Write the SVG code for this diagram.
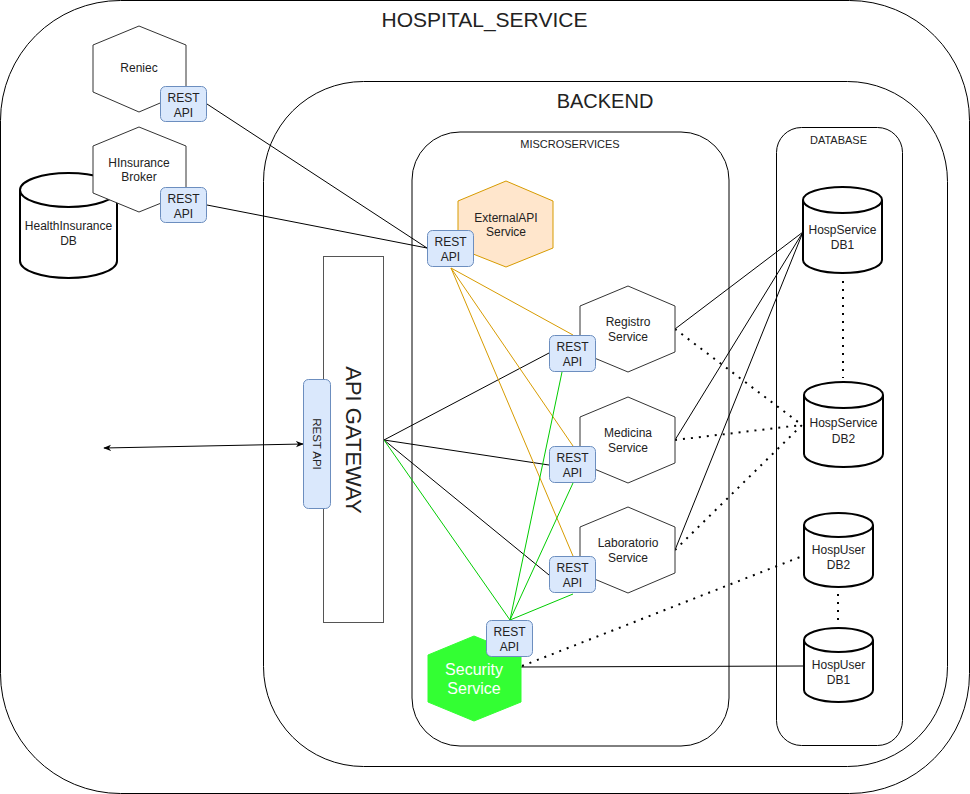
<svg xmlns="http://www.w3.org/2000/svg" width="970" height="794" viewBox="0 0 970 794">
<defs>
<style>
.t{font-family:"Liberation Sans",Arial,Helvetica,sans-serif;fill:#222;text-anchor:middle}
.s12{font-size:12px}
.s11{font-size:11px}
.cont{fill:none;stroke:#000;stroke-width:1}
.hex{fill:#fff;stroke:#333;stroke-width:1}
.rest{fill:#dae8fc;stroke:#6c8ebf;stroke-width:1}
.cyl{fill:#fff;stroke:#000;stroke-width:2}
.ln{fill:none;stroke:#000;stroke-width:1}
.or{fill:none;stroke:#D79B00;stroke-width:1}
.gr{fill:none;stroke:#00CC00;stroke-width:1}
.dt{fill:none;stroke:#000;stroke-width:2;stroke-dasharray:2 6}
</style>
<marker id="arr" viewBox="0 0 10 10" refX="9" refY="5" markerWidth="8" markerHeight="8" markerUnits="userSpaceOnUse" orient="auto-start-reverse">
<path d="M0,1 L10,5 L0,9 L3,5 Z" fill="#000"/>
</marker>
</defs>
<rect width="970" height="794" fill="#fff"/>

<g id="hospital_service">
<rect class="cont" x="0.5" y="0.5" width="969" height="793" rx="120" ry="120"/>
<text class="t" x="484.5" y="27" style="font-size:21px">HOSPITAL_SERVICE</text>
</g>
<g id="backend">
<rect class="cont" x="263.5" y="81.5" width="684" height="685" rx="100" ry="100"/>
<text class="t" x="605" y="108" style="font-size:20px">BACKEND</text>
</g>
<g id="microservices">
<rect class="cont" x="412" y="132" width="317" height="614" rx="48" ry="48"/>
<text class="t s11" x="570" y="148">MISCROSERVICES</text>
</g>
<g id="database">
<rect class="cont" x="776.5" y="127.5" width="126" height="618" rx="25" ry="25"/>
<text class="t s11" x="838.5" y="144">DATABASE</text>
</g>

<g id="connectors">
<line class="ln" x1="207" y1="104" x2="427" y2="248"/>
<line class="ln" x1="207" y1="205" x2="427" y2="248"/>
<line class="ln" x1="384" y1="440" x2="549" y2="353"/>
<line class="ln" x1="384" y1="440" x2="549" y2="465"/>
<line class="ln" x1="384" y1="440" x2="549" y2="575"/>
<line class="gr" x1="384" y1="440" x2="510" y2="620"/>
<line class="or" x1="451" y1="268" x2="573" y2="335"/>
<line class="or" x1="451" y1="268" x2="573" y2="446"/>
<line class="or" x1="451" y1="268" x2="573" y2="556"/>
<line class="gr" x1="510" y1="620" x2="562" y2="372"/>
<line class="gr" x1="510" y1="620" x2="573" y2="483"/>
<line class="gr" x1="510" y1="620" x2="573" y2="594"/>
<line class="ln" x1="675" y1="329" x2="803" y2="232"/>
<line class="ln" x1="675" y1="440" x2="803" y2="232"/>
<line class="ln" x1="675" y1="550" x2="803" y2="232"/>
<line class="ln" x1="521" y1="667" x2="804" y2="666"/>
<line class="dt" x1="675" y1="329" x2="802" y2="425"/>
<line class="dt" x1="675" y1="440" x2="802" y2="425"/>
<line class="dt" x1="675" y1="550" x2="802" y2="425"/>
<line class="dt" x1="843" y1="281" x2="843" y2="378"/>
<line class="dt" x1="838" y1="594" x2="838" y2="626"/>
<line class="dt" x1="522" y1="666" x2="800" y2="557"/>
<line class="ln" x1="104" y1="448" x2="303" y2="444" marker-start="url(#arr)" marker-end="url(#arr)"/>
</g>

<g id="reniec">
<polygon class="hex" points="139,26 186,45 186,92 139,112 93,92 93,45"/>
<text class="t s12" x="139" y="72">Reniec</text>
<rect class="rest" x="160.5" y="86.5" width="46" height="35" rx="5"/>
<text class="t s12" x="183.5" y="102">REST</text>
<text class="t s12" x="183.5" y="117">API</text>
</g>
<g id="hinsurance_db">
<path class="cyl" d="M20,190 A48.5,17 0 0 1 117,190 L117,261 A48.5,17 0 0 1 20,261 Z"/>
<path class="cyl" d="M20,190 A48.5,17 0 0 0 117,190"/>
<text class="t s12" x="68.5" y="230">HealthInsurance</text>
<text class="t s12" x="68.5" y="245">DB</text>
</g>
<g id="hinsurance_broker">
<polygon class="hex" points="139,127 186,146 186,193 139,212 93,193 93,146"/>
<text class="t s12" x="139" y="167">HInsurance</text>
<text class="t s12" x="139" y="181">Broker</text>
<rect class="rest" x="160.5" y="187.5" width="46" height="35" rx="5"/>
<text class="t s12" x="183.5" y="203">REST</text>
<text class="t s12" x="183.5" y="218">API</text>
</g>

<g id="api_gateway">
<rect x="323.5" y="256.5" width="60" height="366" fill="#fff" stroke="#555" stroke-width="1"/>
<text class="t" transform="translate(346,440) rotate(90)" style="font-size:22px">API GATEWAY</text>
<rect class="rest" x="303.5" y="379.5" width="27" height="129" rx="5"/>
<text class="t" transform="translate(312.5,444) rotate(90)" style="font-size:11.5px">REST API</text>
</g>

<g id="externalapi_service">
<polygon points="506,181 553,201 553,248 506,267 458,248 458,201" fill="#ffe6cc" stroke="#d79b00" stroke-width="1"/>
<text class="t s12" x="506" y="222">ExternalAPI</text>
<text class="t s12" x="506" y="236">Service</text>
<rect class="rest" x="427.5" y="230.5" width="46" height="36" rx="5"/>
<text class="t s12" x="450.5" y="246">REST</text>
<text class="t s12" x="450.5" y="261">API</text>
</g>

<g id="registro_service">
<polygon class="hex" points="628,286 675,306 675,352 628,372 580,352 580,306"/>
<text class="t s12" x="628" y="326">Registro</text>
<text class="t s12" x="628" y="341">Service</text>
<rect class="rest" x="549.5" y="335.5" width="46" height="36" rx="5"/>
<text class="t s12" x="572.5" y="351">REST</text>
<text class="t s12" x="572.5" y="366">API</text>
</g>

<g id="medicina_service">
<polygon class="hex" points="628,397 675,417 675,463 628,483 580,463 580,417"/>
<text class="t s12" x="628" y="437">Medicina</text>
<text class="t s12" x="628" y="452">Service</text>
<rect class="rest" x="549.5" y="446.5" width="46" height="36" rx="5"/>
<text class="t s12" x="572.5" y="462">REST</text>
<text class="t s12" x="572.5" y="477">API</text>
</g>

<g id="laboratorio_service">
<polygon class="hex" points="628,507 675,527 675,573 628,593 580,573 580,527"/>
<text class="t s12" x="628" y="547">Laboratorio</text>
<text class="t s12" x="628" y="562">Service</text>
<rect class="rest" x="549.5" y="556.5" width="46" height="36" rx="5"/>
<text class="t s12" x="572.5" y="572">REST</text>
<text class="t s12" x="572.5" y="587">API</text>
</g>

<g id="security_service">
<polygon points="474,636 521,655 521,702 474,721 428,702 428,655" fill="#33FF33" stroke="#33FF33" stroke-width="1"/>
<text class="t" x="474" y="675" style="font-size:16px;fill:#fff">Security</text>
<text class="t" x="474" y="694" style="font-size:16px;fill:#fff">Service</text>
<rect class="rest" x="486.5" y="620.5" width="46" height="36" rx="5"/>
<text class="t s12" x="509.5" y="636">REST</text>
<text class="t s12" x="509.5" y="651">API</text>
</g>

<g id="hospservice_db1">
<path class="cyl" d="M803,200 A39.5,13 0 0 1 882,200 L882,260 A39.5,13 0 0 1 803,260 Z"/>
<path class="cyl" d="M803,200 A39.5,13 0 0 0 882,200"/>
<text class="t s12" x="842.5" y="234">HospService</text>
<text class="t s12" x="842.5" y="249">DB1</text>
</g>
<g id="hospservice_db2">
<path class="cyl" d="M804,395 A39.5,13 0 0 1 883,395 L883,454 A39.5,13 0 0 1 804,454 Z"/>
<path class="cyl" d="M804,395 A39.5,13 0 0 0 883,395"/>
<text class="t s12" x="843.5" y="427">HospService</text>
<text class="t s12" x="843.5" y="443">DB2</text>
</g>
<g id="hospuser_db2">
<path class="cyl" d="M804,525 A34.5,12 0 0 1 873,525 L873,575 A34.5,12 0 0 1 804,575 Z"/>
<path class="cyl" d="M804,525 A34.5,12 0 0 0 873,525"/>
<text class="t s12" x="838.5" y="554">HospUser</text>
<text class="t s12" x="838.5" y="569">DB2</text>
</g>
<g id="hospuser_db1">
<path class="cyl" d="M804,640 A34.5,12 0 0 1 873,640 L873,690 A34.5,12 0 0 1 804,690 Z"/>
<path class="cyl" d="M804,640 A34.5,12 0 0 0 873,640"/>
<text class="t s12" x="838.5" y="669">HospUser</text>
<text class="t s12" x="838.5" y="684">DB1</text>
</g>
</svg>
